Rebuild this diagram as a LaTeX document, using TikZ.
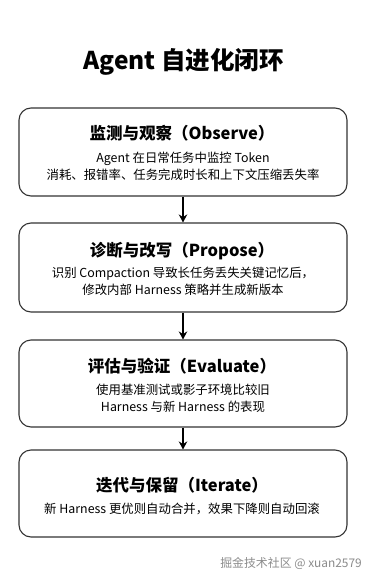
\documentclass[tikz,border=0pt]{standalone}
\usepackage{fontspec}
\setmainfont{Noto Sans CJK SC}
\usetikzlibrary{arrows.meta}
\begin{document}
\begin{tikzpicture}[x=1pt,y=-1pt,
  box/.style={draw=black!80, line width=1.1pt, rounded corners=12pt, minimum width=328pt, inner sep=0pt, fill=white},
  maintitle/.style={anchor=base, inner sep=0pt, font=\fontsize{24.5}{28}\selectfont\bfseries},
  boxtitle/.style={anchor=base, inner sep=0pt, font=\fontsize{16.5}{20}\selectfont\bfseries},
  boxbody/.style={anchor=base, inner sep=0pt, font=\fontsize{12.4}{15}\selectfont},
  flow/.style={-{Stealth[length=8pt,width=8.5pt]}, line width=1.4pt, black},
  wmark/.style={anchor=base east, inner sep=0pt, text=black!45, font=\fontsize{11.9}{14}\selectfont}]
\useasboundingbox[fill=white] (0,0) rectangle (373,581);
\node[maintitle] (title) at (183.5,69) {Agent 自进化闭环};

\node[box, minimum height=88pt] (b1) at (183,152) {};
\node[box, minimum height=89pt] (b2) at (183,267.5) {};
\node[box, minimum height=87pt] (b3) at (183,383.5) {};
\node[box, minimum height=87pt] (b4) at (183,493.5) {};

\node[boxtitle] (t1) at (182,139) {监测与观察（Observe）};
\node[boxbody] (l1a) at (183,162.5) {Agent 在日常任务中监控 Token};
\node[boxbody] (l1b) at (183,179.5) {消耗、报错率、任务完成时长和上下文压缩丢失率};

\node[boxtitle] (t2) at (182,256) {诊断与改写（Propose）};
\node[boxbody] (l2a) at (183,277.5) {识别 Compaction 导致长任务丢失关键记忆后，};
\node[boxbody] (l2b) at (183,294.5) {修改内部 Harness 策略并生成新版本};

\node[boxtitle] (t3) at (182,372) {评估与验证（Evaluate）};
\node[boxbody] (l3a) at (183,394.5) {使用基准测试或影子环境比较旧};
\node[boxbody] (l3b) at (183,411.5) {Harness 与新 Harness 的表现};

\node[boxtitle] (t4) at (182,491) {迭代与保留（Iterate）};
\node[boxbody] (l4a) at (182,513.5) {新 Harness 更优则自动合并，效果下降则自动回滚};

\draw[flow] (b1.south) -- (b2.north);
\draw[flow] (b2.south) -- (b3.north);
\draw[flow] (b3.south) -- (b4.north);

\node[wmark] (wm) at (362,567.5) {掘金技术社区 @ xuan2579};
\end{tikzpicture}
\end{document}
